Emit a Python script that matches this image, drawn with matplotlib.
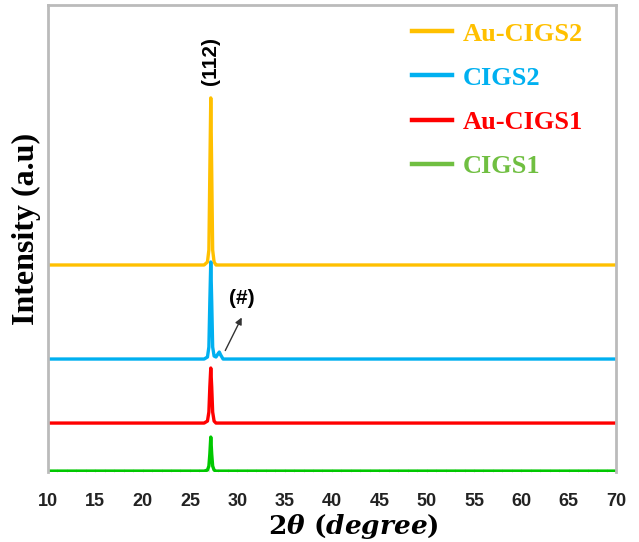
import matplotlib.pyplot as plt
from matplotlib.lines import Line2D

plt.rcParams['mathtext.fontset'] = 'custom'
plt.rcParams['mathtext.rm'] = 'DejaVu Serif:bold'
plt.rcParams['mathtext.it'] = 'DejaVu Serif:italic:bold'

# 2theta sampling points (degree)
two_theta = [10, 26.5, 26.85, 27.0, 27.1, 27.2, 27.3, 27.4, 27.55, 27.75, 27.95, 28.1, 28.25, 28.5, 70]

# intensities, already stacked (arbitrary units)
cigs1 = [1, 1, 2, 6, 18, 35, 18, 6, 2, 1, 1, 1, 1, 1, 1]
au_cigs1 = [49, 49, 51, 60, 85, 104, 85, 60, 51, 49, 49, 49, 49, 49, 49]
cigs2 = [113, 113, 115, 125, 170, 210, 170, 125, 116, 115, 118, 120, 117, 113, 113]
au_cigs2 = [207, 207, 210, 222, 300, 374, 300, 222, 210, 207, 207, 207, 207, 207, 207]

labels = ['Au-CIGS2', 'CIGS2', 'Au-CIGS1', 'CIGS1']
line_colors = ['#FFC000', '#00B0F0', '#FF0000', '#00C800']
legend_colors = ['#FFC000', '#00B0F0', '#FF0000', '#70BF41']
xticks = list(range(10, 75, 5))
tick_font = ['Liberation Sans Narrow', 'Liberation Sans']

fig = plt.figure(figsize=(6.39, 5.42), dpi=100)
ax = fig.add_axes([0.075, 0.129, 0.889, 0.862])

for y, c in zip([au_cigs2, cigs2, au_cigs1, cigs1], line_colors):
    ax.plot(two_theta, y, color=c, lw=2.4, solid_joinstyle='round')

ax.set_xlim(10, 70)
ax.set_ylim(0, 467)
ax.set_yticks([])
ax.set_xticks(xticks)
ax.set_xticks(range(10, 71, 1), minor=True)
ax.tick_params(axis='x', which='both', direction='in', length=2, color='#dddddd', pad=15)
for lbl in ax.get_xticklabels():
    lbl.set_family(tick_font)
    lbl.set_fontsize(13)
    lbl.set_fontweight('bold')
    lbl.set_color('#222222')

for s in ['left', 'right', 'top']:
    ax.spines[s].set_color('#bbbbbb')
    ax.spines[s].set_linewidth(2)
ax.spines['bottom'].set_visible(False)

ax.set_ylabel('Intensity (a.u)', family='Liberation Serif', fontweight='bold', fontsize=23)
ax.yaxis.set_label_coords(-0.012, 0.52)
ax.set_xlabel(r'$2\theta\ (degree)$', fontsize=19)
ax.xaxis.set_label_coords(0.537, -0.086)

ax.text(27.2, 411, '(112)', rotation=90, ha='center', va='center', fontsize=15,
        fontweight='bold', family=tick_font)
ax.annotate('', xy=(30.6, 157), xytext=(28.6, 119),
            arrowprops=dict(arrowstyle='-|>', color='#333333', lw=1, mutation_scale=10))
ax.text(30.5, 174, '(#)', ha='center', va='center', fontsize=15, fontweight='bold',
        family=tick_font)

handles = [Line2D([0], [0], color=c, lw=3.2) for c in legend_colors]
leg = ax.legend(handles, labels, loc='upper left', bbox_to_anchor=(0.641, 0.963),
                borderpad=0, borderaxespad=0, frameon=False, handlelength=1.5,
                handletextpad=0.42, labelspacing=0.78,
                prop={'family': 'Liberation Serif', 'weight': 'bold', 'size': 19})
for t, c in zip(leg.get_texts(), legend_colors):
    t.set_color(c)

fig.savefig('out.png', dpi=100)
